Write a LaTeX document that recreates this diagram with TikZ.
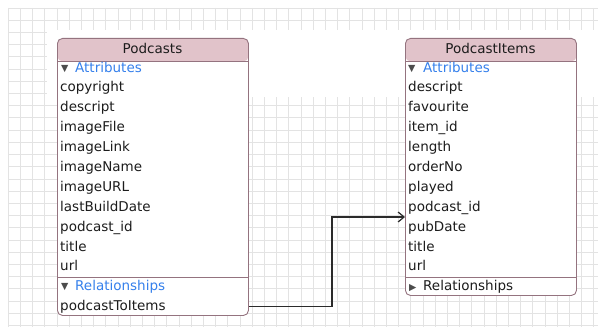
\documentclass[tikz,border=0pt]{standalone}
\usepackage{fontspec}
\setmainfont{DejaVu Sans}
\usetikzlibrary{arrows.meta,calc}

\definecolor{gridline}{HTML}{E3E3E3}
\definecolor{headerfill}{HTML}{E1C3CA}
\definecolor{entityedge}{HTML}{94737F}
\definecolor{sectionblue}{HTML}{3580EC}
\definecolor{rowink}{HTML}{1C1C1C}
\definecolor{connector}{HTML}{2B2B2B}

\tikzset{
  entity/.style={draw=entityedge, line width=0.9pt, rounded corners=5pt, fill=white,
    inner sep=0pt, anchor=north west,
    path picture={\fill[headerfill] (path picture bounding box.north west)
      rectangle ([yshift=-23pt]path picture bounding box.north east);}},
  headertext/.style={anchor=base, inner sep=0pt, text=rowink,
    font=\fontsize{13.5}{16}\selectfont},
  rowtext/.style={anchor=base west, inner sep=0pt, text=rowink,
    font=\fontsize{13.5}{16}\selectfont},
  sectiontext/.style={rowtext, text=sectionblue},
  disclosure/.style={anchor=base west, inner sep=0pt, text=black!70,
    font=\fontsize{9.5}{9.5}\selectfont},
  divider/.style={draw=entityedge, line width=0.9pt},
  rel/.style={draw=connector, line width=1.2pt,
    -{Straight Barb[length=6pt,width=10pt]}},
  gridrule/.style={draw=gridline, line width=0.6pt}
}

\begin{document}
\begin{tikzpicture}[x=1pt, y=-1pt]
  % canvas
  \useasboundingbox (0,0) rectangle (598,329);
  \fill[white] (0,0) rectangle (598,329);

  % background grid
  \foreach \gx in {0,...,48}
    \draw[gridrule] ({8+12.2*\gx},8) -- ({8+12.2*\gx},327);
  \foreach \gy in {0,...,26}
    \draw[gridrule] (8,{8+12.2*\gy}) -- (598,{8+12.2*\gy});
  \fill[white] (47,30) rectangle (598,97);

  % entity frames
  \node[entity, minimum width=191pt, minimum height=277pt] (podcasts) at (57,38) {};
  \node[entity, minimum width=171pt, minimum height=257pt] (items) at (405,38) {};

  % section dividers
  \draw[divider] ([yshift=-23pt]podcasts.north west) -- ([yshift=-23pt]podcasts.north east);
  \draw[divider] ([yshift=-239pt]podcasts.north west) -- ([yshift=-239pt]podcasts.north east);
  \draw[divider] ([yshift=-23pt]items.north west) -- ([yshift=-23pt]items.north east);
  \draw[divider] ([yshift=-239pt]items.north west) -- ([yshift=-239pt]items.north east);

  % entity names
  \node[headertext] (podcastsname) at (152.5,54) {Podcasts};
  \node[headertext] (itemsname) at (490.5,54) {PodcastItems};

  % Podcasts entity
  \node[disclosure] (pattrmark) at (61,71.8) {▼};
  \node[sectiontext] (pattr) at (75,72.5) {Attributes};
  \foreach \label [count=\i from 0] in {copyright, descript, imageFile, imageLink,
      imageName, imageURL, lastBuildDate, podcast\_id, title, url}
    \node[rowtext] (pa\i) at (60,{91.8+19.9*\i}) {\label};
  \node[disclosure] (prelmark) at (61,289.8) {▼};
  \node[sectiontext] (prel) at (75,290.5) {Relationships};
  \node[rowtext] (ptoi) at (60,310) {podcastToItems};

  % PodcastItems entity
  \node[disclosure] (iattrmark) at (408,71.8) {▼};
  \node[sectiontext] (iattr) at (423,72.5) {Attributes};
  \foreach \label [count=\i from 0] in {descript, favourite, item\_id, length,
      orderNo, played, podcast\_id, pubDate, title, url}
    \node[rowtext] (ia\i) at (408,{91.8+19.9*\i}) {\label};
  \node[disclosure] (irelmark) at (409,290) {▶};
  \node[rowtext] (irel) at (423,290.5) {Relationships};

  % relationship connector
  \coordinate (bend) at (332,217);
  \draw[rel] (podcasts.east |- ptoi) -| (bend) -- (items.west |- bend);
\end{tikzpicture}
\end{document}
